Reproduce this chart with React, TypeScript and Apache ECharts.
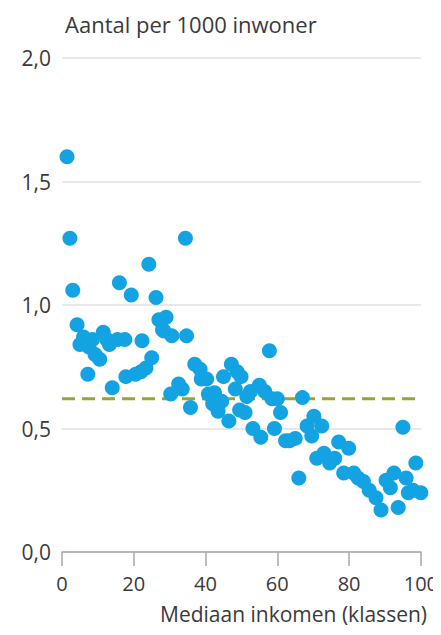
import React, { useEffect, useRef } from "react";
import * as echarts from "echarts";

const title = "Aantal per 1000 inwoner";
const xAxisName = "Mediaan inkomen (klassen)";
const xTicks = [0, 20, 40, 60, 80, 100];
const yTicks = [0, 0.5, 1.0, 1.5, 2.0];
const averageValue = 0.62;

// [income class, count per 1000 inhabitants]
const pointsLeft: [number, number][] = [
  [1.4, 1.6], [2.2, 1.27], [3.0, 1.06], [4.2, 0.92], [5.0, 0.84], [6.0, 0.87],
  [7.2, 0.72], [7.5, 0.83], [8.5, 0.86], [9.2, 0.8], [10.5, 0.78], [11.5, 0.89],
  [12.5, 0.86], [13.2, 0.84], [14.0, 0.665], [15.5, 0.86], [16.0, 1.09], [17.5, 0.86],
  [17.8, 0.71], [19.3, 1.04], [20.5, 0.72], [22.0, 0.73], [22.3, 0.855], [23.4, 0.745],
  [24.2, 1.165], [25.0, 0.786], [26.2, 1.03], [27.0, 0.94], [28.0, 0.9], [29.0, 0.95],
  [28.4, 0.895], [30.3, 0.64], [30.6, 0.875], [32.5, 0.68], [33.5, 0.66], [34.4, 1.27],
  [34.7, 0.875],
];
const pointsMiddle: [number, number][] = [
  [35.8, 0.585], [37.0, 0.76], [38.5, 0.74], [38.8, 0.7], [40.3, 0.7], [40.8, 0.64],
  [42.0, 0.6], [42.5, 0.645], [43.5, 0.57], [44.5, 0.61], [45.0, 0.71], [46.5, 0.53],
  [47.2, 0.76], [48.3, 0.66], [48.8, 0.73], [49.5, 0.575], [49.9, 0.71], [51.0, 0.565],
  [51.5, 0.63], [52.5, 0.65], [53.2, 0.5], [55.0, 0.675], [55.4, 0.465], [56.5, 0.65],
  [57.8, 0.815], [58.5, 0.62], [59.2, 0.5], [60.0, 0.62], [60.9, 0.565], [62.3, 0.45],
  [63.4, 0.45], [65.0, 0.46], [66.0, 0.3], [67.0, 0.625],
];
const pointsRight: [number, number][] = [
  [68.3, 0.51], [69.6, 0.47], [70.2, 0.55], [71.0, 0.38], [72.4, 0.51], [73.0, 0.4],
  [74.6, 0.36], [76.0, 0.38], [77.1, 0.445], [78.5, 0.32], [79.9, 0.42], [81.3, 0.32],
  [82.5, 0.3], [84.0, 0.285], [85.6, 0.25], [87.5, 0.22], [88.9, 0.17], [90.3, 0.29],
  [91.5, 0.26], [92.5, 0.32], [93.7, 0.18], [95.0, 0.505], [95.9, 0.3], [96.5, 0.24],
  [97.8, 0.25], [98.6, 0.36], [100.0, 0.24],
];

const FONT = "Open Sans";
const TEXT = "#3a3a3a";

export default function App() {
  const ref = useRef<HTMLDivElement>(null);
  useEffect(() => {
    if (!ref.current) return;
    const chart = echarts.init(ref.current, undefined, { renderer: "svg" });
    const points = [...pointsLeft, ...pointsMiddle, ...pointsRight];
    chart.setOption({
      animation: false,
      backgroundColor: "#ffffff",
      title: {
        text: title,
        left: 60,
        top: 8,
        textStyle: { fontFamily: FONT, fontSize: 22, fontWeight: "normal", color: TEXT },
      },
      grid: { left: 62, right: 16, top: 58, bottom: 83 },
      graphic: [
        {
          type: "text",
          right: 14,
          top: 603,
          style: { text: xAxisName, fontFamily: FONT, fontSize: 21, fill: TEXT },
        },
      ],
      xAxis: {
        type: "value",
        min: 0,
        max: 100,
        interval: 20,
        axisLine: { show: true, onZero: false, lineStyle: { color: "#a8a8a8", width: 1.5 } },
        axisTick: { show: true, inside: false, length: 14, lineStyle: { color: "#a8a8a8", width: 1.5 } },
        axisLabel: {
          fontFamily: FONT,
          fontSize: 20,
          color: TEXT,
          margin: 21,
          formatter: (v: number) => (xTicks.includes(v) ? String(v) : ""),
        },
        splitLine: { show: false },
      },
      yAxis: {
        type: "value",
        min: 0,
        max: 2,
        interval: 0.5,
        axisLine: { show: false },
        axisTick: { show: false },
        axisLabel: {
          fontFamily: FONT,
          fontSize: 21,
          color: TEXT,
          margin: 11,
          formatter: (v: number) => (yTicks.includes(v) ? v.toFixed(1).replace(".", ",") : ""),
        },
        splitLine: { show: true, lineStyle: { color: "#e0e0e0", width: 1.5 } },
      },
      series: [
        {
          type: "line",
          data: [[0, averageValue], [100, averageValue]],
          symbol: "none",
          lineStyle: { color: "#9aa52a", width: 3, type: [13, 7] },
          z: 1,
        },
        {
          type: "scatter",
          data: points,
          symbolSize: 15,
          itemStyle: { color: "#13a3e2", opacity: 1 },
          z: 2,
        },
      ],
    });
    return () => chart.dispose();
  }, []);
  return <div ref={ref} style={{ width: 441, height: 635, margin: -8 }} />;
}
